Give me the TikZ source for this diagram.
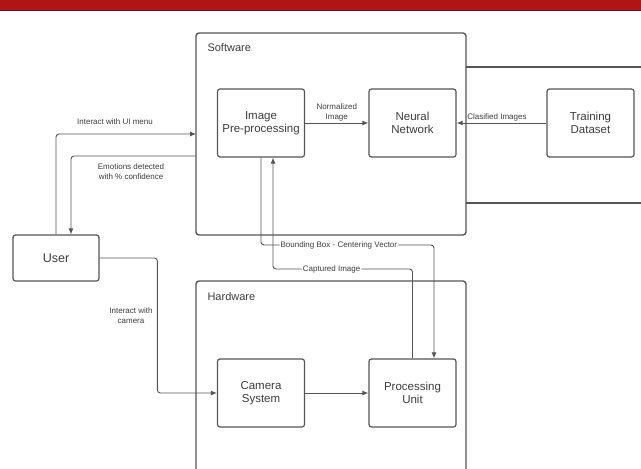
\documentclass[tikz,border=0pt]{standalone}
\usepackage{fontspec}
\setmainfont{Liberation Sans}
\usetikzlibrary{calc,arrows.meta}
\definecolor{banner}{HTML}{B01515}
\definecolor{bannerline}{HTML}{1C2A5E}
\definecolor{linegray}{HTML}{555555}
\definecolor{textgray}{HTML}{3C3C3C}

\begin{document}
\begin{tikzpicture}[x=1pt, y=-1pt,
    block/.style = {draw = linegray, line width = 1.2pt, rounded corners = 2.5pt,
        align = center, text = textgray, font = \fontsize{11.5}{13.5}\selectfont,
        minimum width = 87pt, minimum height = 68pt, inner sep = 0pt},
    group/.style = {draw = linegray, line width = 1.4pt, rounded corners = 3pt},
    wire/.style = {draw = linegray, line width = 0.9pt, rounded corners = 3pt},
    tip/.style = {-{Latex[length = 6pt, width = 5pt]}},
    lbl/.style = {font = \fontsize{8}{10}\selectfont, text = textgray, align = center, inner sep = 1pt},
    title/.style = {font = \fontsize{11}{13}\selectfont, text = textgray, anchor = west}]
    \path[use as bounding box, clip](0,0)rectangle(641,469);
    % banner
    \path[fill = banner](0,0)rectangle(641,9.5);
    \path[fill = bannerline](0,9.5)rectangle(641,11);
    % software
    \path[group](196,33)rectangle(466,235);
    \node[title](swT)at(204,48){Software};
    \path[group](466,67)--(650,67);
    \path[group](466,203)--(650,203);
    \node[block](pre)at(261,123){Image\\Pre-processing};
    \node[block](nn)at(412.5,123){Neural\\Network};
    \node[block](train)at(590.5,123){Training\\Dataset};
    % hardware
    \path[group](196,480)--(196,281)--(466,281)--(466,480);
    \node[title](hwT)at(204,297){Hardware};
    \node[block](cam)at(261,393){Camera\\System};
    \node[block](proc)at(412.5,393){Processing\\Unit};
    % user
    \node[block, minimum width = 86pt, minimum height = 46pt, font = \fontsize{12.5}{14}\selectfont](user)at(56,258){User};
    % turning points
    \coordinate(uiIn)at(196,134);
    \coordinate(emOut)at(196,156);
    \coordinate(bbTurn)at(434,245);
    \coordinate(ciTurn)at(273,269);
    % connectors
    \path[wire, tip](pre)--node[lbl, above]{Normalized\\Image}(nn);
    \path[wire, tip](train)--node[lbl, above, pos = 0.55]{Clasified Images}(nn);
    \path[wire, tip](cam)--(proc);
    \path[wire, tip](user.north)|-(uiIn);
    \node[lbl](uiL)at(115,122){Interact with UI menu};
    \path[wire, tip](emOut)-|($(user.north)+(15,0)$);
    \node[lbl](emL)at(131,172){Emotions detected\\with \% confidence};
    \path[wire, tip](user.east)-|($(cam.west)+(-59.5,0)$)--(cam.west);
    \node[lbl](camL)at(131,316){Interact with\\camera};
    \path[wire, tip](pre.south)|-node[lbl, fill = white, pos = 0.725]{Bounding Box - Centering Vector}(bbTurn)--(bbTurn |- proc.north);
    \path[wire, tip](proc.north)|-node[lbl, fill = white, pos = 0.79]{Captured Image}(ciTurn)--(ciTurn |- pre.south);
\end{tikzpicture}
\end{document}
